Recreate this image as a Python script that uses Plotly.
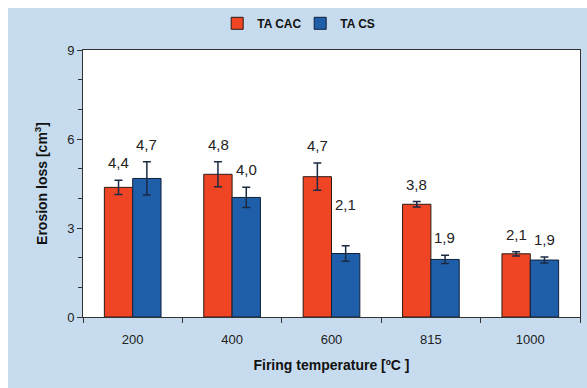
import plotly.graph_objects as go

categories = ["200", "400", "600", "815", "1000"]
cac_values = [4.37, 4.81, 4.73, 3.80, 2.13]
cac_errors = [0.24, 0.42, 0.46, 0.09, 0.07]
cs_values = [4.67, 4.03, 2.14, 1.94, 1.92]
cs_errors = [0.56, 0.34, 0.26, 0.14, 0.10]
y_ticks = [0, 3, 6, 9]

FONT = "Liberation Sans, Arial, sans-serif"
RED = "#f04524"
BLUE = "#1f5fa9"
ERR = "#1d2a44"
BG = "#c6dcee"

W, H = 587, 388
ML, MR, MT, MB = 83, 7, 50, 71
pw, ph = W - ML - MR, H - MT - MB

fig = go.Figure()
fig.add_trace(go.Bar(
    name="TA CAC", x=categories, y=cac_values,
    marker=dict(color=RED, line=dict(color="#2a1a14", width=1)),
    error_y=dict(type="data", array=cac_errors, color=ERR, thickness=1.5, width=4),
))
fig.add_trace(go.Bar(
    name="TA CS", x=categories, y=cs_values,
    marker=dict(color=BLUE, line=dict(color="#10203a", width=1)),
    error_y=dict(type="data", array=cs_errors, color=ERR, thickness=1.5, width=4),
))

def fmt(v):
    return f"{v:.1f}".replace(".", ",")

extra_shift = {("cs", 2): 24}
annotations = []
for key, vals, errs, dx in (("cac", cac_values, cac_errors, -14), ("cs", cs_values, cs_errors, 14)):
    for i, (v, e) in enumerate(zip(vals, errs)):
        annotations.append(dict(
            x=i, y=v + e, xref="x", yref="y", text=fmt(v), showarrow=False,
            xshift=dx, yanchor="bottom", yshift=7 + extra_shift.get((key, i), 0),
            font=dict(family=FONT, size=15, color="#222"),
        ))

# background panel
bx0 = (8 - ML) / pw
bx1 = (W + 2 - ML) / pw
by1 = (H - MB - 8) / ph
by0 = (H - MB - H - 2) / ph
shapes = [
    dict(type="rect", xref="paper", yref="paper", x0=bx0, x1=bx1, y0=by0, y1=by1,
         fillcolor=BG, line=dict(width=0), layer="below"),
    dict(type="rect", xref="paper", yref="paper", x0=0, x1=1, y0=0, y1=1,
         fillcolor="white", line=dict(width=0), layer="below"),
]

fig.update_layout(
    width=W, height=H,
    margin=dict(l=ML, r=MR, t=MT, b=MB, pad=0),
    paper_bgcolor="white", plot_bgcolor="white",
    barmode="group", bargap=0.43, bargroupgap=0,
    font=dict(family=FONT, size=13, color="#222"),
    showlegend=True,
    legend=dict(orientation="h", x=0.27, xanchor="left", y=1.10, yanchor="middle",
                font=dict(family=FONT, size=12, color="#111", weight="bold"),
                bgcolor="rgba(0,0,0,0)", itemwidth=30, tracegroupgap=0,
                entrywidth=38, entrywidthmode="pixels"),
    annotations=annotations,
    shapes=shapes,
    xaxis=dict(
        type="category", range=[-0.5, 4.5], tickson="boundaries", ticks="outside", ticklen=5,
        tickcolor="#333", showline=True, linecolor="#333", linewidth=1, mirror=True,
        showgrid=False, tickfont=dict(size=13, color="#222"), tickangle=0,
        ticklabelstandoff=10,
        title=dict(text="Firing temperature [ºC ]", standoff=14,
                   font=dict(size=14, color="#111", weight="bold")),
    ),
    yaxis=dict(
        range=[0, 9], tickvals=y_ticks, ticks="outside", ticklen=5, tickcolor="#333",
        minor=dict(dtick=1, ticks="outside", ticklen=4, tickcolor="#333"),
        showline=True, linecolor="#333", linewidth=1, mirror=True, showgrid=False,
        zeroline=False, tickfont=dict(size=13, color="#222"),
        title=dict(text="Erosion loss [cm<sup>3</sup>]", standoff=16,
                   font=dict(size=14, color="#111", weight="bold")),
    ),
)

fig.write_html("out.html")
